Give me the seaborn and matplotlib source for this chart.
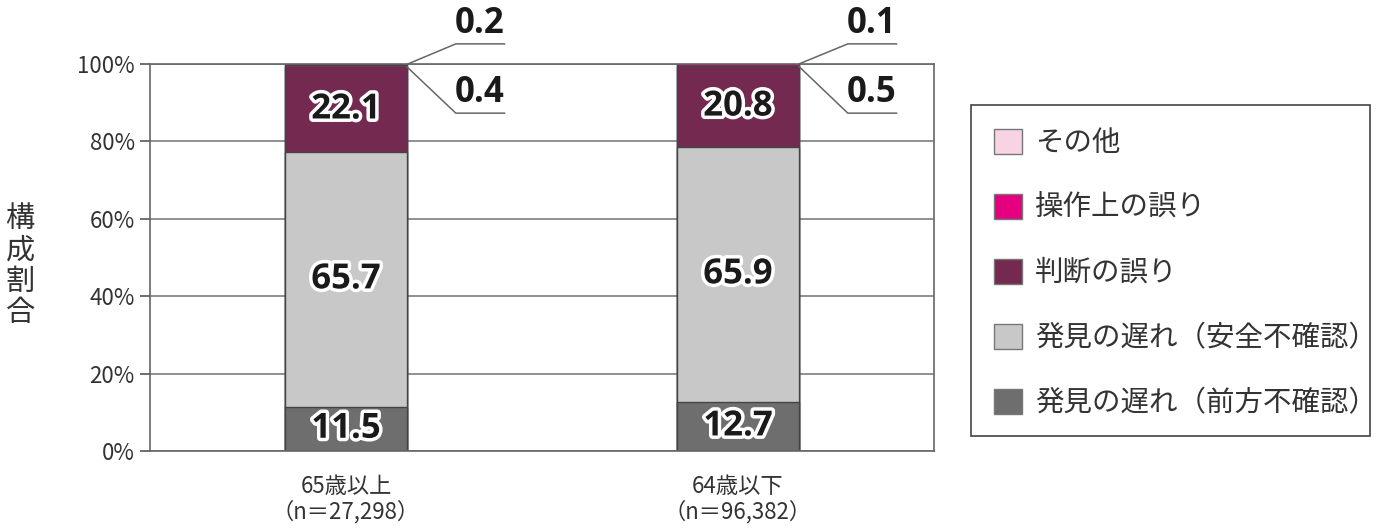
import matplotlib

matplotlib.use("Agg")
import matplotlib.patheffects as pe
import matplotlib.pyplot as plt
import numpy as np
import pandas as pd
import seaborn as sns
from matplotlib.patches import Rectangle

# data (percent of accidents by cause)
groups = ["65歳以上\n（n＝27,298）", "64歳以下\n（n＝96,382）"]
causes = [
    "発見の遅れ（前方不確認）",
    "発見の遅れ（安全不確認）",
    "判断の誤り",
    "操作上の誤り",
    "その他",
]
forward_miss = [11.5, 12.7]
safety_miss = [65.7, 65.9]
judgement = [22.1, 20.8]
operation = [0.4, 0.5]
other = [0.2, 0.1]
y_ticks = [0, 20, 40, 60, 80, 100]

colors = ["#6e6e6e", "#c8c8c8", "#732950", "#e4007f", "#f7d3e3"]

sns.set_theme(style="white")
plt.rcParams["font.family"] = ["Noto Sans CJK JP", "DejaVu Sans"]

shares = np.array([forward_miss, safety_miss, judgement, operation, other])
tops = shares.cumsum(axis=0)
df = pd.DataFrame(
    [
        {"group": g, "cause": c, "top": tops[i, j]}
        for i, c in enumerate(causes)
        for j, g in enumerate(groups)
    ]
)

fig = plt.figure(figsize=(13.84, 5.29), dpi=100)
ax = fig.add_axes([0.1084, 0.1474, 0.5665, 0.7316])

bar_w = 0.31
sns.barplot(
    data=df,
    x="group",
    y="top",
    hue="cause",
    hue_order=causes[::-1],
    order=groups,
    palette=dict(zip(causes, colors)),
    dodge=False,
    width=bar_w,
    saturation=1,
    edgecolor="#444444",
    linewidth=1,
    ax=ax,
)
# shorter (lower) stacks go on top; thin top segments keep their own colour as edge
for cont in ax.containers:
    lab = cont.get_label()
    if lab in causes:
        k = causes.index(lab)
        for p in cont:
            p.set_zorder(10 - k)
            if k >= 3:
                p.set_edgecolor(colors[k])
                p.set_linewidth(0.8)

ax.set_xlim(-0.5, 1.5)
ax.set_ylim(0, 100)
ax.set_yticks(y_ticks)
ax.set_yticklabels([f"{t}%" for t in y_ticks], fontsize=16, color="#333333")
ax.set_xticks(range(len(groups)))
ax.set_xticklabels(groups, fontsize=16, color="#333333", linespacing=1.15)
ax.set_xticks([-0.5, 0.5, 1.5], minor=True)
ax.tick_params(axis="x", which="major", length=0, pad=17)
ax.tick_params(axis="x", which="minor", length=8, width=1.2, color="#555555", direction="out")
ax.tick_params(axis="y", length=7, width=1.2, color="#555555", direction="out", pad=4, left=True)
ax.set_xlabel("")
ax.set_ylabel("")
ax.yaxis.grid(True, color="#888888", linewidth=1.3)
ax.set_axisbelow(True)
for s in ax.spines.values():
    s.set_visible(True)
    s.set_color("#666666")
    s.set_linewidth(1.2)

# labels inside the big segments
stroke = [pe.withStroke(linewidth=5, foreground="white")]
for i in range(3):
    for j in range(len(groups)):
        mid = tops[i, j] - shares[i, j] / 2
        ax.text(
            j, mid, f"{shares[i, j]:.1f}", ha="center", va="center",
            fontsize=25, fontweight="bold", color="#1a1a1a",
            family=["Open Sans", "DejaVu Sans"], path_effects=stroke, zorder=20,
        )

# call-outs for the thin segments
for j in range(len(groups)):
    xr = j + bar_w / 2
    for i, anchor_y, line_y in [(4, tops[4, j], 105.2), (3, tops[2, j], 87.3)]:
        ax.plot(
            [xr, xr + 0.125, xr + 0.25], [anchor_y, line_y, line_y],
            color="#666666", linewidth=1.1, clip_on=False, zorder=15,
        )
        ax.text(
            xr + 0.185, line_y + 0.6, f"{shares[i, j]:.1f}", ha="center", va="bottom",
            fontsize=25, fontweight="bold", color="#1a1a1a",
            family=["Open Sans", "DejaVu Sans"], clip_on=False,
        )

fig.text(0.0145, 0.497, "構\n成\n割\n合", ha="center", va="center",
         fontsize=21, color="#333333", linespacing=1.05)

# legend with a separately drawn frame
handles, labels = ax.get_legend_handles_labels()
leg = ax.legend(
    handles, labels,
    loc="upper left", bbox_to_anchor=(994 / 1384, 1 - 128 / 529),
    bbox_transform=fig.transFigure, borderaxespad=0, borderpad=0,
    fontsize=20.5, frameon=False,
    handlelength=1.0, handleheight=1.0, handletextpad=0.45,
    labelspacing=1.23,
)
for h in leg.legend_handles:
    h.set_edgecolor("#777777")
    h.set_linewidth(1)
for t in leg.get_texts():
    t.set_color("#333333")
fig.patches.append(
    Rectangle(
        (971 / 1384, 1 - 436 / 529), 399 / 1384, 331 / 529,
        transform=fig.transFigure, fill=False, edgecolor="#444444", linewidth=1.2,
    )
)

fig.savefig("out.png", dpi=100)
